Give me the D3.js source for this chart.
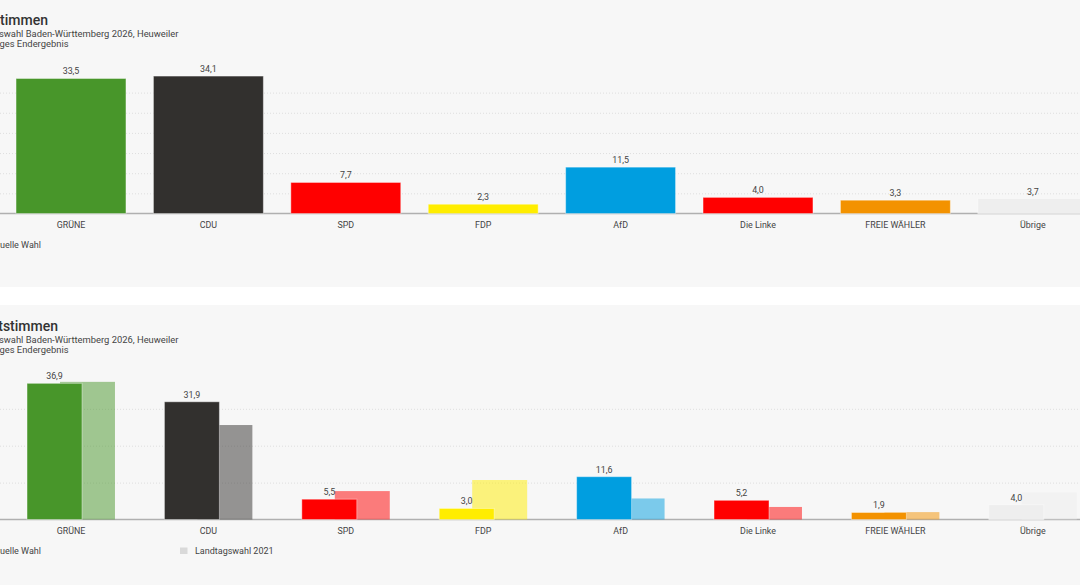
<!DOCTYPE html>
<html>
<head>
<meta charset="utf-8">
<script src="https://cdnjs.cloudflare.com/ajax/libs/d3/7.8.5/d3.min.js"></script>
<style>
html, body { margin: 0; padding: 0; background: #fff; overflow: hidden; }
svg text { font-family: Roboto, "Noto Sans", sans-serif; fill: #444; }
.title { font-size: 14px; font-weight: 500; fill: #333; }
.sub { font-size: 9.4px; }
.val, .tick text { font-size: 8.9px; }
.leg { font-size: 9px; }
</style>
</head>
<body>
<div id="chart"></div>
<script>
var categories = ['GRÜNE', 'CDU', 'SPD', 'FDP', 'AfD', 'Die Linke', 'FREIE WÄHLER', 'Übrige'];
var colors = ['#48962a', '#32302e', '#ff0000', '#ffed00', '#009ee0', '#ff0000', '#f39200', '#eeeeee'];
var erst2026 = [33.5, 34.1, 7.7, 2.3, 11.5, 4.0, 3.3, 3.7];
var zweit2026 = [36.9, 31.9, 5.5, 3.0, 11.6, 5.2, 1.9, 4.0];
var zweit2021 = [37.3, 25.6, 7.7, 10.7, 5.7, 3.4, 2.0, 7.3];
var erstTicks = [5, 10, 15, 20, 25, 30];
var zweitTicks = [10, 20, 30];

var width = 1080, height = 585;
var fmt = d3.formatLocale({ decimal: ',', thousands: '.', grouping: [3], currency: ['', '€'] }).format('.1f');

var svg = d3.select('#chart').append('svg')
	.attr('width', width)
	.attr('height', height)
	.style('display', 'block');

var x = d3.scaleBand()
	.domain(categories)
	.range([2.3, 1101.5])
	.paddingInner(0.2)
	.paddingOuter(0.1);

function panel(o) {
	var g = svg.append('g');
	g.append('rect')
		.attr('x', 0).attr('y', o.top)
		.attr('width', width).attr('height', o.h)
		.attr('fill', '#f7f7f7');

	g.append('text').attr('class', 'title').attr('text-anchor', 'end')
		.attr('x', o.titleEnd).attr('y', o.titleY).text(o.title);
	g.append('text').attr('class', 'sub').attr('text-anchor', 'end')
		.attr('x', 178.5).attr('y', o.titleY + 12).text('Landtagswahl Baden-Württemberg 2026, Heuweiler');
	g.append('text').attr('class', 'sub').attr('text-anchor', 'end')
		.attr('x', 68.5).attr('y', o.titleY + 22).text('Vorläufiges Endergebnis');

	var y = d3.scaleLinear().domain([0, o.max]).range([o.base, o.base - o.max * o.unit]);

	// dotted grid
	var grid = g.append('g').call(d3.axisLeft(y).tickValues(o.ticks).tickSize(-width).tickFormat(''));
	grid.select('.domain').remove();
	grid.selectAll('.tick line')
		.attr('stroke', '#dedede')
		.attr('stroke-dasharray', '1,2');

	// baseline + party names
	var axis = g.append('g')
		.attr('transform', 'translate(0,' + o.base + ')')
		.call(d3.axisBottom(x).tickSize(0).tickPadding(8));
	axis.select('.domain').remove();
	axis.selectAll('.tick text').attr('fill', '#444').attr('font-family', null);
	g.append('line')
		.attr('x1', 0).attr('x2', width)
		.attr('y1', y(0)).attr('y2', y(0))
		.attr('stroke', '#b0b0b0').attr('stroke-width', 1.6);

	var bw = x.bandwidth();
	var curW = o.prev ? bw * 0.5 : bw;
	var curOff = o.prev ? bw * 0.1 : 0;

	if (o.prev) {
		g.selectAll('.prev').data(o.prev).enter().append('rect')
			.attr('class', 'prev')
			.attr('x', function (d, i) { return x(categories[i]) + bw * 0.4; })
			.attr('y', function (d) { return y(d); })
			.attr('width', bw * 0.5)
			.attr('height', function (d) { return y(0) - y(d); })
			.attr('fill', function (d, i) { return colors[i]; })
			.attr('opacity', 0.5);
	}

	var labels = g.append('g');
	labels.selectAll('text').data(o.cur).enter().append('text')
		.attr('class', 'val')
		.attr('text-anchor', 'middle')
		.attr('x', function (d, i) { return x(categories[i]) + curOff + curW / 2; })
		.attr('y', function (d) { return y(d) - 4; })
		.text(function (d) { return fmt(d); });

	g.selectAll('.cur').data(o.cur).enter().append('rect')
		.attr('class', 'cur')
		.attr('x', function (d, i) { return x(categories[i]) + curOff; })
		.attr('y', function (d) { return y(d); })
		.attr('width', curW)
		.attr('height', function (d) { return y(0) - y(d); })
		.attr('fill', function (d, i) { return colors[i]; })
		.attr('stroke', '#fff')
		.attr('stroke-opacity', 0.4)
		.attr('stroke-width', 1);

	g.append('text').attr('class', 'leg').attr('text-anchor', 'end')
		.attr('x', 41).attr('y', o.base + 34.5).text('Aktuelle Wahl');
	if (o.prev) {
		g.append('rect')
			.attr('x', 180).attr('y', o.base + 28)
			.attr('width', 7.5).attr('height', 6.5)
			.attr('fill', '#d9d9d9');
		g.append('text').attr('class', 'leg')
			.attr('x', 195).attr('y', o.base + 34.5).text('Landtagswahl 2021');
	}
}

panel({
	top: 0, h: 287, title: 'Erststimmen', titleEnd: 48, titleY: 25,
	base: 213.5, unit: 4.03, max: 35, ticks: erstTicks, cur: erst2026
});
panel({
	top: 305, h: 280, title: 'Zweitstimmen', titleEnd: 58, titleY: 331,
	base: 519.5, unit: 3.69, max: 38, ticks: zweitTicks, cur: zweit2026, prev: zweit2021
});
</script>
</body>
</html>
